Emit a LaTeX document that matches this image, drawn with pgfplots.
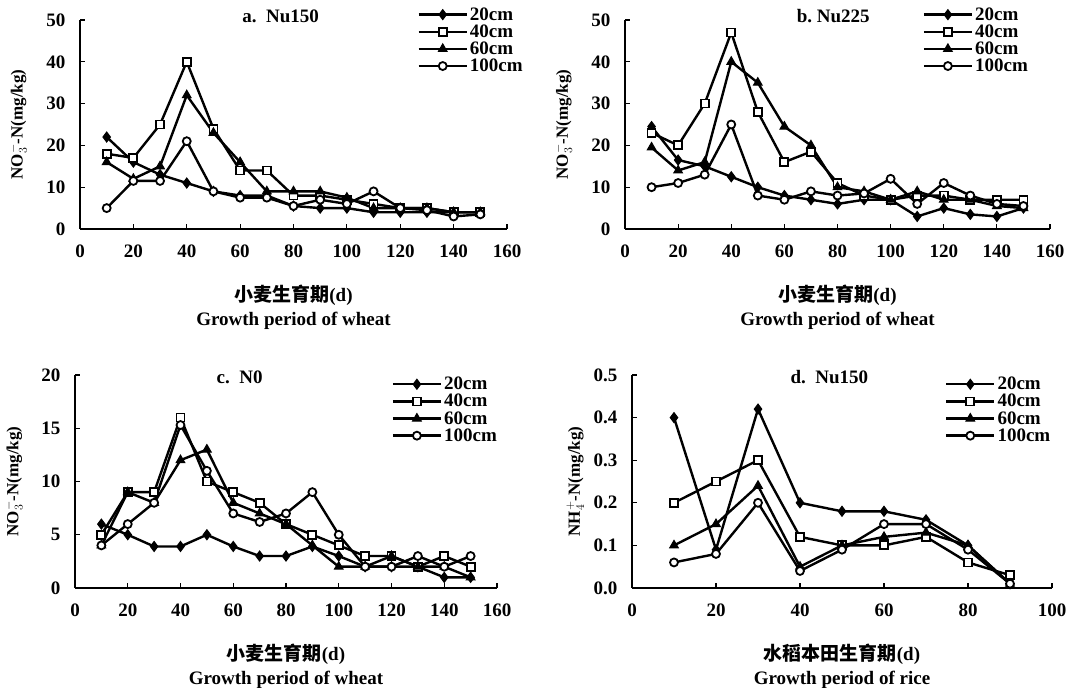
\documentclass[border=0pt]{standalone}
\usepackage{fontspec}
\setmainfont{Liberation Serif}
\newfontfamily\cjk{Noto Sans CJK SC}
\usepackage{pgfplots}
\usepackage{pgfplotstable}
\pgfplotsset{compat=1.18}

% NO3-N, wheat, Nu150
\pgfplotstableread{
x   d20  d40  d60  d100
10  22   18   16   5
20  16   17   12   11.5
30  13   25   15   11.5
40  11   40   32   21
50  9    24   23   9
60  8    14   16   7.5
70  8    14   9    7.5
80  5.5  8    9    5.5
90  5    8    9    7
100 5    7    7.5  6
110 4    6    5    9
120 4    5    5    5
130 4    5    5    4.5
140 4    4    4    3
150 4    4    4    3.5
}\tabA
% NO3-N, wheat, Nu225
\pgfplotstableread{
x   d20  d40  d60  d100
10  24.5 23   19.5 10
20  16.5 20   14   11
30  15   30   16   13
40  12.5 47   40   25
50  10   28   35   8
60  8    16   24.5 7
70  7    18.5 20   9
80  6    11   10   8
90  7    8    9    8.5
100 7    7    7    12
110 3    8    9    6
120 5    8    7    11
130 3.5  7    7    8
140 3    7    5.5  6
150 5    7    5    5.5
}\tabB
% NO3-N, wheat, N0
\pgfplotstableread{
x   d20  d40  d60  d100
10  6    5    4    4
20  5    9    9    6
30  3.9  9    8    8
40  3.9  16   12   15.3
50  5    10   13   11
60  3.9  9    8    7
70  3    8    7    6.2
80  3    6    6    7
90  3.9  5    4    9
100 3    4    2    5
110 2    3    2    2
120 2    3    3    2
130 2    2    2    3
140 1    3    2    2
150 1    2    1    3
}\tabC
% NH4-N, rice, Nu150
\pgfplotstableread{
x   d20  d40  d60  d100
10  0.40 0.20 0.10 0.06
20  0.09 0.25 0.15 0.08
30  0.42 0.30 0.24 0.20
40  0.20 0.12 0.05 0.04
50  0.18 0.10 0.10 0.09
60  0.18 0.10 0.12 0.15
70  0.16 0.12 0.13 0.15
80  0.10 0.06 0.10 0.09
90  0.01 0.03 0.01 0.01
}\tabD

\pgfplotsset{
  panel/.style={
    scale only axis,
    axis x line*=bottom, axis y line*=left,
    axis line style={line width=2pt},
    tick align=inside, major tick length=5pt,
    tick style={line width=1.2pt, black},
    xmin=0, ymin=0,
    /pgf/number format/assume math mode=true,
    tick label style={font=\fontsize{19}{19}\selectfont\bfseries},
    xticklabel style={yshift=-12pt},
    yticklabel style={xshift=-11pt},
    label style={font=\fontsize{19}{24}\selectfont\bfseries},
    xlabel style={at={(axis description cs:0.5,0)}, anchor=north, yshift=-52pt, align=center},
    ylabel style={at={(axis description cs:-0.145,0.5)}, anchor=center, font=\fontsize{17}{17}\selectfont\bfseries},
    title style={font=\fontsize{19}{19}\selectfont\bfseries, anchor=center},
    legend style={draw=none, fill=none, font=\fontsize{19}{19}\selectfont\bfseries,
      anchor=north west, row sep=-1pt, inner sep=0pt},
    legend cell align=left,
    legend image code/.code={
      \draw[#1, mark repeat=2, mark phase=2] plot coordinates {(0pt,0pt) (24pt,0pt) (48pt,0pt)};
    },
  },
  s20/.style={black, line width=2.4pt, mark=diamond*, mark size=5pt, mark options={solid, fill=black, line width=1pt}},
  s40/.style={black, line width=2.4pt, mark=square*, mark size=4pt, mark options={solid, fill=white, line width=1.8pt}},
  s60/.style={black, line width=2.4pt, mark=triangle*, mark size=5pt, mark options={solid, fill=black, line width=1pt}},
  s100/.style={black, line width=2.4pt, mark=*, mark size=4pt, mark options={solid, fill=white, line width=1.8pt}},
}

\begin{document}
\begin{tikzpicture}
\useasboundingbox (0,0) rectangle (1074pt,688pt);

% a
\begin{axis}[panel, at={(80pt,459pt)}, anchor=south west, width=427pt, height=209pt,
  xmax=160, ymax=50, xtick={0,20,...,160}, ytick={0,10,...,50},
  title={a.\ \ Nu150}, title style={at={(axis description cs:0.47,0.99)}},
  xlabel={{\cjk 小麦生育期}(d)\\Growth period of wheat},
  ylabel={NO$_3^-$-N(mg/kg)},
  legend style={at={(axis description cs:0.79,1.07)}}]
\addplot[s20] table[x=x, y=d20] {\tabA};
\addplot[s40] table[x=x, y=d40] {\tabA};
\addplot[s60] table[x=x, y=d60] {\tabA};
\addplot[s100] table[x=x, y=d100] {\tabA};
\legend{20cm, 40cm, 60cm, 100cm}
\end{axis}

% b
\begin{axis}[panel, at={(625pt,459pt)}, anchor=south west, width=425pt, height=209pt,
  xmax=160, ymax=50, xtick={0,20,...,160}, ytick={0,10,...,50},
  title={b.\ Nu225}, title style={at={(axis description cs:0.49,0.99)}},
  xlabel={{\cjk 小麦生育期}(d)\\Growth period of wheat},
  ylabel={NO$_3^-$-N(mg/kg)},
  legend style={at={(axis description cs:0.70,1.07)}}]
\addplot[s20] table[x=x, y=d20] {\tabB};
\addplot[s40] table[x=x, y=d40] {\tabB};
\addplot[s60] table[x=x, y=d60] {\tabB};
\addplot[s100] table[x=x, y=d100] {\tabB};
\legend{20cm, 40cm, 60cm, 100cm}
\end{axis}

% c
\begin{axis}[panel, at={(75pt,100pt)}, anchor=south west, width=422pt, height=213pt,
  xmax=160, ymax=20, xtick={0,20,...,160}, ytick={0,5,...,20},
  title={c.\ \ N0}, title style={at={(axis description cs:0.39,0.96)}},
  xlabel={{\cjk 小麦生育期}(d)\\Growth period of wheat},
  ylabel={NO$_3^-$-N(mg/kg)},
  legend style={at={(axis description cs:0.75,1.0)}}]
\addplot[s20] table[x=x, y=d20] {\tabC};
\addplot[s40] table[x=x, y=d40] {\tabC};
\addplot[s60] table[x=x, y=d60] {\tabC};
\addplot[s100] table[x=x, y=d100] {\tabC};
\legend{20cm, 40cm, 60cm, 100cm}
\end{axis}

% d
\begin{axis}[panel, at={(632pt,100pt)}, anchor=south west, width=420pt, height=213pt,
  xmax=100, ymax=0.5, xtick={0,20,...,100}, ytick={0,0.1,...,0.5},
  yticklabel style={/pgf/number format/.cd, fixed, fixed zerofill, precision=1},
  title={d.\ \ Nu150}, title style={at={(axis description cs:0.47,0.96)}},
  xlabel={{\cjk 水稻本田生育期}(d)\\Growth period of rice},
  ylabel={NH$_4^+$-N(mg/kg)},
  ylabel style={at={(axis description cs:-0.135,0.5)}},
  legend style={at={(axis description cs:0.745,1.0)}}]
\addplot[s20] table[x=x, y=d20] {\tabD};
\addplot[s40] table[x=x, y=d40] {\tabD};
\addplot[s60] table[x=x, y=d60] {\tabD};
\addplot[s100] table[x=x, y=d100] {\tabD};
\legend{20cm, 40cm, 60cm, 100cm}
\end{axis}
\end{tikzpicture}
\end{document}
